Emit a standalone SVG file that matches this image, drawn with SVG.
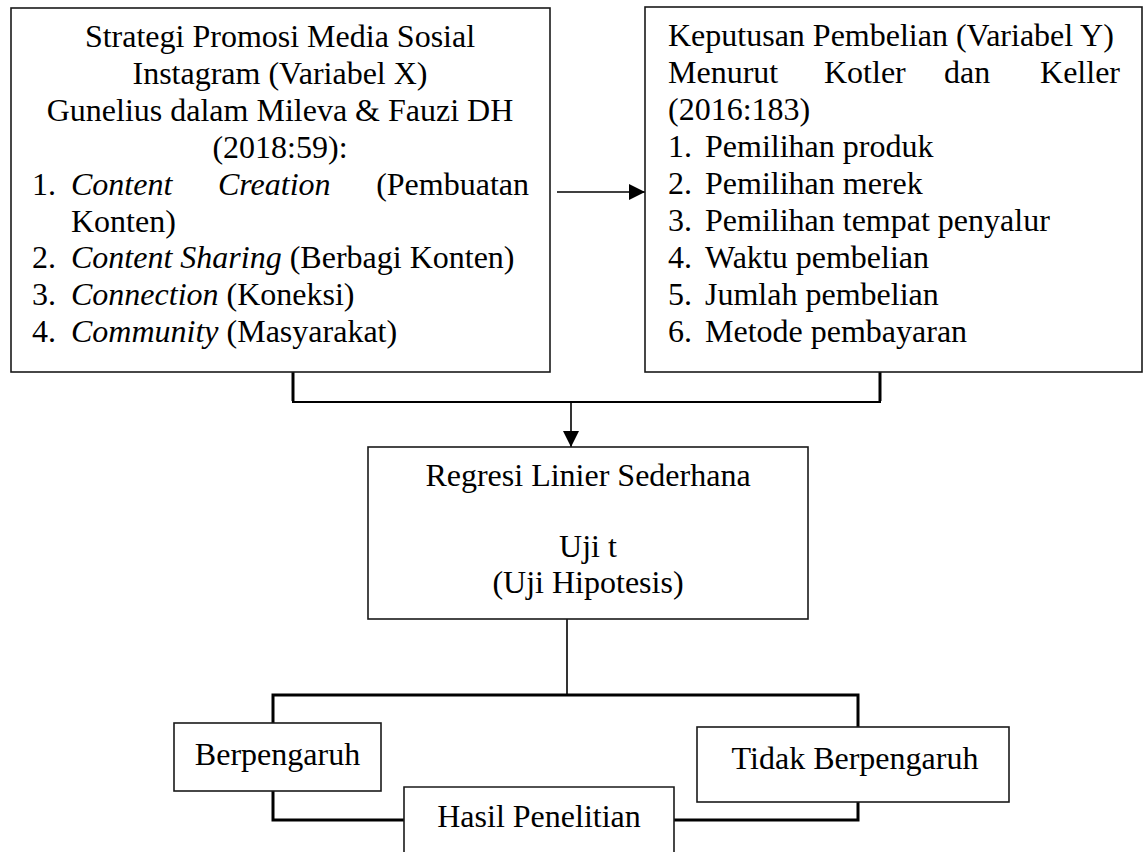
<svg xmlns="http://www.w3.org/2000/svg" width="1144" height="852" viewBox="0 0 1144 852">
<style>
text{font-family:"Liberation Serif","Times New Roman",serif;font-size:32px;fill:#000}
.c{text-anchor:middle}
.e{text-anchor:end}
.i{font-style:italic}
.box{fill:#fff;stroke:#1a1a1a;stroke-width:1.6}
.ln{fill:none;stroke:#000;stroke-width:1.6}
.th{fill:none;stroke:#000;stroke-width:3}
</style>
<defs>
<marker id="ah" viewBox="0 0 10 10" refX="10" refY="5" markerWidth="10" markerHeight="10" markerUnits="userSpaceOnUse" orient="auto">
<path d="M0,0 L10,5 L0,10 z" fill="#000"/>
</marker>
<marker id="ah2" viewBox="0 0 16 16" refX="16" refY="8" markerWidth="16" markerHeight="16" markerUnits="userSpaceOnUse" orient="auto">
<path d="M0,0 L16,8 L0,16 z" fill="#000"/>
</marker>
</defs>
<g id="connectors">
<line class="ln" x1="557" y1="192" x2="645" y2="192" marker-end="url(#ah2)"/>
<polyline class="th" points="293,371 293,401"/>
<polyline class="th" points="880,371 880,401"/>
<line class="ln" x1="292" y1="402" x2="881" y2="402" style="stroke-width:2.2"/>
<line class="ln" x1="571" y1="402" x2="571" y2="447" marker-end="url(#ah2)"/>
<line class="ln" x1="567" y1="619" x2="567" y2="695"/>
<polyline class="th" points="273,723 273,695 858,695 858,727"/>
<polyline class="th" points="273,788 273,820 404,820"/>
<polyline class="th" points="674,820 858,820 858,792"/>
</g>
<g id="node-x">
<rect class="box" x="11" y="8" width="539" height="364"/>
<text class="c" x="280" y="47">Strategi Promosi Media Sosial</text>
<text class="c" x="280" y="84">Instagram (Variabel X)</text>
<text class="c" x="280" y="121">Gunelius dalam Mileva &amp; Fauzi DH</text>
<text class="c" x="280" y="158">(2018:59):</text>
<text x="32" y="195">1.</text>
<text class="i" x="71" y="195">Content</text>
<text class="i" x="218" y="195">Creation</text>
<text class="e" x="529" y="195">(Pembuatan</text>
<text x="71" y="232">Konten)</text>
<text x="32" y="268">2.</text>
<text x="71" y="268"><tspan class="i">Content Sharing</tspan> (Berbagi Konten)</text>
<text x="32" y="305">3.</text>
<text x="71" y="305"><tspan class="i">Connection</tspan> (Koneksi)</text>
<text x="32" y="342">4.</text>
<text x="71" y="342"><tspan class="i">Community</tspan> (Masyarakat)</text>
</g>
<g id="node-y">
<rect class="box" x="645" y="7" width="497" height="365"/>
<text x="668" y="46">Keputusan Pembelian (Variabel Y)</text>
<text x="668" y="83">Menurut</text>
<text x="824" y="83">Kotler</text>
<text x="944" y="83">dan</text>
<text class="e" x="1120" y="83">Keller</text>
<text x="668" y="120">(2016:183)</text>
<text x="668" y="157">1.</text><text x="705" y="157">Pemilihan produk</text>
<text x="668" y="194">2.</text><text x="705" y="194">Pemilihan merek</text>
<text x="668" y="231">3.</text><text x="705" y="231">Pemilihan tempat penyalur</text>
<text x="668" y="268">4.</text><text x="705" y="268">Waktu pembelian</text>
<text x="668" y="305">5.</text><text x="705" y="305">Jumlah pembelian</text>
<text x="668" y="342">6.</text><text x="705" y="342">Metode pembayaran</text>
</g>
<g id="node-regresi">
<rect class="box" x="368" y="447" width="440" height="172"/>
<text class="c" x="588" y="486">Regresi Linier Sederhana</text>
<text class="c" x="588" y="557">Uji t</text>
<text class="c" x="588" y="593">(Uji Hipotesis)</text>
</g>
<g id="node-berpengaruh">
<rect class="box" x="174" y="723" width="207" height="68"/>
<text class="c" x="277.5" y="765">Berpengaruh</text>
</g>
<g id="node-tidak">
<rect class="box" x="697" y="727" width="312" height="75"/>
<text class="c" x="855" y="769">Tidak Berpengaruh</text>
</g>
<g id="node-hasil">
<path class="box" d="M404,853 L404,787 L674,787 L674,853"/>
<text class="c" x="539" y="827">Hasil Penelitian</text>
</g>
</svg>
